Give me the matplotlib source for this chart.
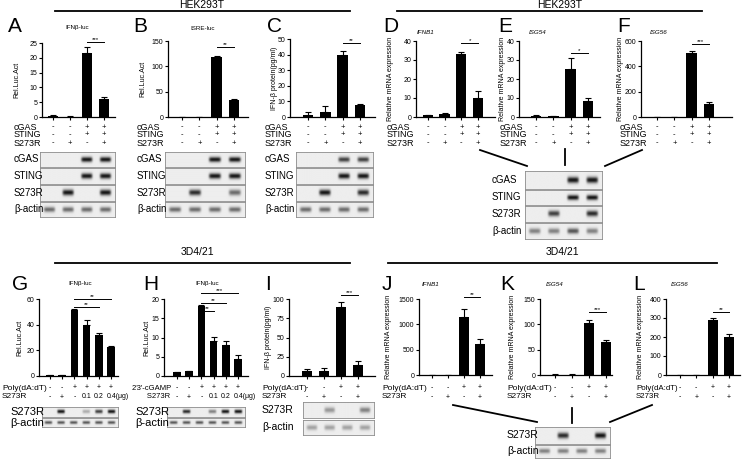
import numpy as np
import matplotlib.pyplot as plt

W, H = 743, 462
plt.rcParams['font.family'] = ['Liberation Sans', 'DejaVu Sans']

# ---- bar data ----
a_vals = [0.4, 0.1, 21.5, 6.0]
a_errs = [0.2, 0.1, 2.3, 0.9]
b_vals = [0.3, 0.5, 119, 33]
b_errs = [0.0, 0.3, 1.0, 3.0]
c_vals = [1.2, 3.5, 40, 8]
c_errs = [1.8, 3.5, 2.5, 0.3]
d_vals = [1.0, 1.5, 33, 10]
d_errs = [0.3, 0.4, 1.2, 3.5]
e_vals = [0.7, 0.5, 25.5, 8.2]
e_errs = [0.2, 0.2, 5.5, 1.8]
f_vals = [0, 0, 505, 105]
f_errs = [0, 0, 20, 15]
g_vals = [0.5, 0.5, 51.5, 40, 32, 22.5]
g_errs = [0.3, 0.3, 0.8, 4.0, 1.2, 1.2]
h_vals = [1.0, 1.2, 18.2, 9.0, 8.0, 4.5]
h_errs = [0.1, 0.2, 0.3, 1.2, 1.2, 1.0]
i_vals = [7, 7, 90, 14]
i_errs = [2, 3, 6, 6]
j_vals = [0, 0, 1150, 620]
j_errs = [0, 0, 150, 90]
k_vals = [0, 0, 103, 65]
k_errs = [1, 1, 6, 4]
l_vals = [0, 0, 292, 202]
l_errs = [0, 0, 10, 15]

# ---- treatment rows ----
hek_rows = ["cGAS", "STING", "S273R"]
hek_signs = [["-", "-", "+", "+"], ["-", "-", "+", "+"], ["-", "+", "-", "+"]]
dose_signs = [["-", "-", "+", "+", "+", "+"], ["-", "+", "-", "0.1", "0.2", "0.4(μg)"]]
poly_rows = ["Poly(dA:dT)", "S273R"]
poly_signs = [["-", "-", "+", "+"], ["-", "+", "-", "+"]]

# ---- western blot band intensities ----
blot_a = {"cGAS": [0, 0, 1, 1], "STING": [0, 0, 1, 1], "S273R": [0, 1, 0, 1], "β-actin": [0.6, 0.6, 0.6, 0.6]}
blot_b = {"cGAS": [0, 0, 1, 1], "STING": [0, 0, 1, 1], "S273R": [0, 0.9, 0, 0.6], "β-actin": [0.6, 0.6, 0.6, 0.6]}
blot_c = {"cGAS": [0, 0, 0.8, 0.8], "STING": [0, 0, 1, 1], "S273R": [0, 1, 0, 0.9], "β-actin": [0.6, 0.6, 0.6, 0.6]}
blot_def = {"cGAS": [0, 0, 1, 1], "STING": [0, 0, 1, 1], "S273R": [0, 0.8, 0, 0.9], "β-actin": [0.5, 0.5, 0.7, 0.5]}
blot_g = {"S273R": [0, 1, 0, 0.3, 0.8, 1], "β-actin": [0.7] * 6}
blot_h = {"S273R": [0, 0.9, 0, 0.5, 1, 1], "β-actin": [0.7] * 6}
blot_i = {"S273R": [0, 0.4, 0, 0.5], "β-actin": [0.35] * 4}
blot_jkl = {"S273R": [0, 0.9, 0, 1], "β-actin": [0.5] * 4}

fig = plt.figure(figsize=(W / 100, H / 100), dpi=100)


def box(x0, y0, x1, y1):
    return fig.add_axes([x0 / W, 1 - y1 / H, (x1 - x0) / W, (y1 - y0) / H])


def txt(x, y, s, **kw):
    kw.setdefault("va", "center")
    fig.text(x / W, 1 - y / H, s, **kw)


def line(xs, ys, lw=1.3):
    fig.add_artist(plt.Line2D([x / W for x in xs], [1 - y / H for y in ys], color="black", lw=lw))


def bar_panel(bx, first, last, vals, errs, ymax, step, sig, ylab, ylx):
    # bx: axis box in pixels; first/last: pixel x of first and last bar
    x0, y0, x1, y1 = bx
    ax = box(x0, y0, x1, y1)
    n = len(vals)
    unit = (last - first) / (n - 1)
    x = np.arange(n)
    ax.bar(x, vals, width=0.62, color="black")
    ax.errorbar(x, vals, yerr=[np.zeros(n), errs], fmt="none", ecolor="black",
                elinewidth=0.8, capsize=2, capthick=0.8)
    ax.set_xlim(-(first - x0) / unit, n - 1 + (x1 - last) / unit)
    ax.set_ylim(0, ymax)
    ax.set_yticks(np.arange(0, ymax + step / 2, step))
    ax.set_xticks(x)
    ax.set_xticklabels([])
    ax.tick_params(labelsize=5, length=2.5, width=0.8, pad=1)
    for s in ["top", "right"]:
        ax.spines[s].set_visible(False)
    for s in ["left", "bottom"]:
        ax.spines[s].set_linewidth(0.9)
    for i, j, y, s in sig:
        ax.plot([i, j], [y, y], color="black", lw=0.7, clip_on=False)
        ax.text((i + j) / 2, y, s, ha="center", va="bottom", fontsize=4.5)
    txt(ylx, (y0 + y1) / 2, ylab, rotation=90, ha="center", fontsize=5)
    return [first + i * unit for i in range(n)]


def signs(cx, labels, rows, lx, ys, fs_lab, fs_sign):
    for lab, row, y in zip(labels, rows, ys):
        txt(lx, y, lab, ha="left", fontsize=fs_lab)
        for c, s in zip(cx, row):
            if s.endswith("(μg)"):
                txt(c - 4, y, s, ha="left", fontsize=fs_sign)
            else:
                txt(c, y, s, ha="center", fontsize=fs_sign)


def blot(x0, x1, rows, ybounds, lx, fs):
    for (lab, bands), (ya, yb) in zip(rows.items(), ybounds):
        ax = box(x0, ya, x1, yb)
        n = len(bands)
        xx = np.linspace(0, n, 240)
        yy = np.linspace(-1, 1, 40)
        img = np.zeros((40, 240))
        for i, b in enumerate(bands):
            img += b * np.exp(-((xx - i - 0.5) / 0.3) ** 6)[None, :] * np.exp(-(yy / 0.35) ** 2)[:, None]
        ax.imshow(0.93 - 0.85 * np.clip(img, 0, 1), cmap="gray", vmin=0, vmax=1,
                  aspect="auto", interpolation="bilinear")
        ax.set_xticks([])
        ax.set_yticks([])
        for s in ax.spines.values():
            s.set_color("0.55")
            s.set_linewidth(0.6)
        txt(lx, (ya + yb) / 2, lab, ha="left", fontsize=fs)


# ---- section headers ----
txt(202, 5, "HEK293T", ha="center", fontsize=7.5)
line([55, 350], [11, 11])
txt(560, 5, "HEK293T", ha="center", fontsize=7.5)
line([397, 702], [11, 11])
txt(197, 252, "3D4/21", ha="center", fontsize=7.5)
line([55, 350], [263, 263])
txt(562, 252, "3D4/21", ha="center", fontsize=7.5)
line([388, 717], [263, 263])

# ---- panel letters ----
for lt, x, y in [("A", 8, 26), ("B", 133, 26), ("C", 267, 26), ("D", 383, 26),
                 ("E", 498, 26), ("F", 617, 26), ("G", 12, 284), ("H", 143, 284),
                 ("I", 265, 284), ("J", 382, 284), ("K", 500, 284), ("L", 633, 284)]:
    txt(x, y, lt, ha="left", fontsize=15)

hek_ys = [127, 135, 143]
row4 = [(152, 167), (168, 184), (185, 201), (202, 217)]
mrna = "Relative mRNA expression"

# A
cx = bar_panel((42, 43, 115, 117), 53, 104, a_vals, a_errs, 25, 5, [(2, 3, 25.4, "***")], "Rel.Luc.Act", 17)
txt(77, 28, "IFNβ-luc", ha="center", fontsize=4.5)
signs(cx, hek_rows, hek_signs, 14, hek_ys, 6.5, 5.5)
blot(40, 115, blot_a, row4, 14, 7)

# B
cx = bar_panel((168, 41, 248, 117), 182, 234, b_vals, b_errs, 150, 50, [(2, 3, 139, "**")], "Rel.Luc.Act", 143)
txt(203, 28, "ISRE-luc", ha="center", fontsize=4.5)
signs(cx, hek_rows, hek_signs, 137, hek_ys, 6.5, 5.5)
blot(165, 245, blot_b, row4, 137, 7)

# C
cx = bar_panel((290, 39, 375, 117), 308, 360, c_vals, c_errs, 50, 10, [(2, 3, 47.4, "**")],
               "IFN-β protein(pg/ml)", 274)
signs(cx, hek_rows, hek_signs, 265, hek_ys, 6.5, 5.5)
blot(296, 373, blot_c, row4, 265, 7)

# D
cx = bar_panel((416, 41, 495, 117), 428, 478, d_vals, d_errs, 40, 10, [(2, 3, 39, "*")], mrna, 390)
txt(417, 33, "IFNB1", ha="left", fontsize=4.5, style="italic")
signs(cx, hek_rows, hek_signs, 387, hek_ys, 6.5, 5.5)

# E
cx = bar_panel((519, 41, 600, 117), 536, 588, e_vals, e_errs, 40, 10, [(2, 3, 33.7, "*")], mrna, 503)
txt(529, 33, "ISG54", ha="left", fontsize=4.5, style="italic")
signs(cx, hek_rows, hek_signs, 500, hek_ys, 6.5, 5.5)

# F
cx = bar_panel((641, 41, 732, 117), 657, 709, f_vals, f_errs, 600, 200, [(2, 3, 576, "***")], mrna, 621)
txt(650, 33, "ISG56", ha="left", fontsize=4.5, style="italic")
signs(cx, hek_rows, hek_signs, 620, hek_ys, 6.5, 5.5)

line([480, 527], [150, 166])
line([565, 565], [149, 165])
line([642, 605], [150, 166])
blot(525, 602, blot_def, [(171, 189), (190, 205), (206, 222), (223, 239)], 492, 7)

# G
poly_ys = [388, 397]
cx = bar_panel((39, 299, 118, 376), 50, 111, g_vals, g_errs, 60, 20,
               [(2, 4, 53.8, "**"), (2, 5, 60, "**")], "Rel.Luc.Act", 20)
txt(80, 284, "IFNβ-luc", ha="center", fontsize=4.5)
signs(cx, poly_rows, dose_signs, 2, poly_ys, 6, 5)
blot(42, 118, blot_g, [(407, 417), (418, 427)], 10, 8)

# H
cx = bar_panel((164, 299, 248, 376), 177, 238, h_vals, h_errs, 20, 5,
               [(2, 3, 16.9, "**"), (2, 4, 19, "**"), (2, 5, 21.6, "***")], "Rel.Luc.Act", 147)
txt(207, 284, "IFNβ-luc", ha="center", fontsize=4.5)
signs(cx, ["2'3'-cGAMP", "       S273R"], dose_signs, 132, poly_ys, 5.5, 5)
blot(167, 245, blot_h, [(407, 417), (418, 427)], 135, 8)

# I
cx = bar_panel((289, 299, 375, 376), 307, 358, i_vals, i_errs, 100, 25, [(2, 3, 105, "***")],
               "IFN-β protein(pg/ml)", 268)
signs(cx, poly_rows, poly_signs, 262, [388, 397], 6, 5)
blot(303, 374, blot_i, [(402, 418), (420, 435)], 262, 7.5)

# J, K, L
cx = bar_panel((419, 299, 492, 375), 432, 480, j_vals, j_errs, 1500, 500, [(2, 3, 1540, "**")], mrna, 389)
txt(422, 284, "IFNB1", ha="left", fontsize=4.5, style="italic")
signs(cx, poly_rows, poly_signs, 382, poly_ys, 6, 5)

cx = bar_panel((540, 299, 612, 375), 555, 606, k_vals, k_errs, 150, 50, [(2, 3, 125, "***")], mrna, 512)
txt(546, 284, "ISG54", ha="left", fontsize=4.5, style="italic")
signs(cx, poly_rows, poly_signs, 507, poly_ys, 6, 5)

cx = bar_panel((666, 299, 740, 375), 680, 729, l_vals, l_errs, 400, 100, [(2, 3, 333, "**")], mrna, 641)
txt(671, 284, "ISG56", ha="left", fontsize=4.5, style="italic")
signs(cx, poly_rows, poly_signs, 636, poly_ys, 5.7, 5)

line([453, 537], [405, 422])
line([572, 572], [408, 423])
line([652, 610], [405, 422])
blot(535, 610, blot_jkl, [(427, 444), (445, 458)], 507, 7.5)

fig.savefig("out.png", dpi=100)
